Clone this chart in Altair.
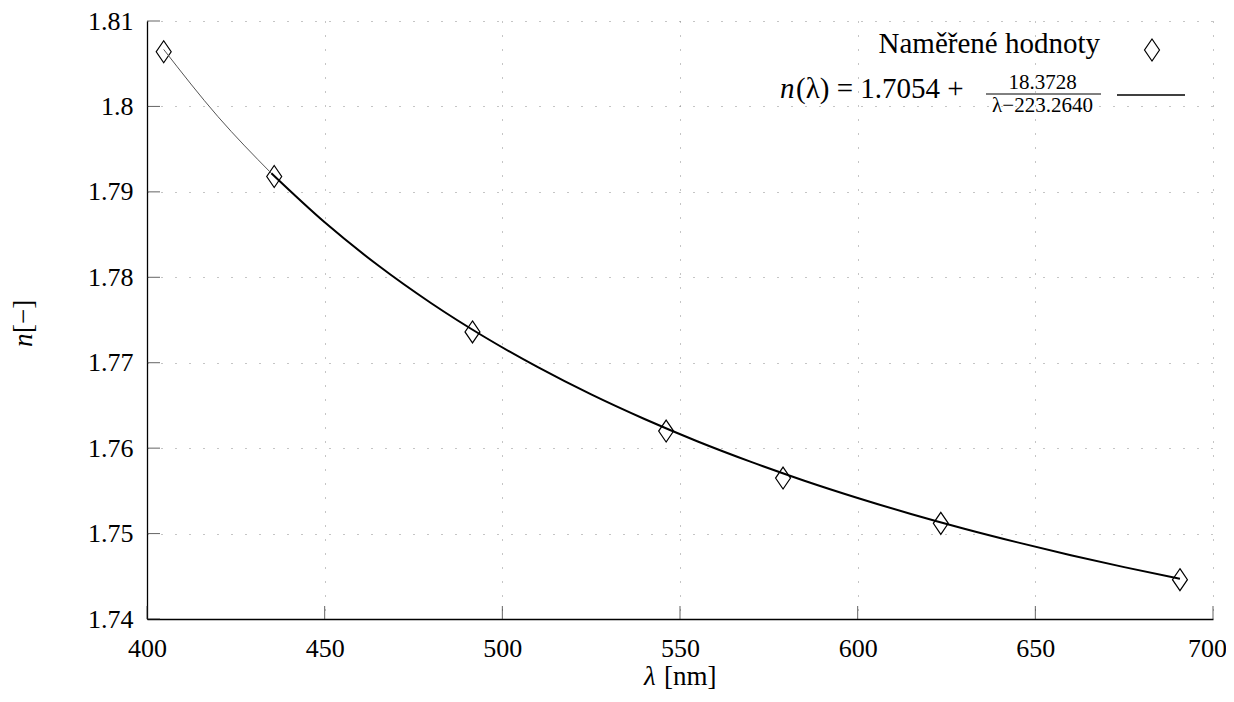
import altair as alt
import pandas as pd

# measured points
wavelength = [404.7, 435.8, 491.6, 546.1, 579.0, 623.4, 690.7]
index_n = [1.8064, 1.7918, 1.7736, 1.7620, 1.7565, 1.7512, 1.7446]

# fitted curve samples
fit_lambda = [404.7, 420, 435, 450, 465, 480, 495, 510, 525, 540, 555, 570,
              585, 600, 615, 630, 645, 660, 675, 690.7]
fit_n = [1.80667, 1.79879, 1.79217, 1.78643, 1.78140, 1.77696, 1.77301, 1.76948,
         1.76629, 1.76341, 1.76078, 1.75839, 1.75619, 1.75417, 1.75230, 1.75057,
         1.74897, 1.74747, 1.74607, 1.74471]

x_ticks = [400, 450, 500, 550, 600, 650, 700]
y_ticks = [1.74, 1.75, 1.76, 1.77, 1.78, 1.79, 1.80, 1.81]

FONT = "Liberation Serif, DejaVu Serif, serif"
W, H = 1066, 598

xscale = alt.Scale(domain=[400, 700], nice=False, zero=False)
yscale = alt.Scale(domain=[1.74, 1.81], nice=False, zero=False)

pts_df = pd.DataFrame({"lam": wavelength, "n": index_n})
fit_df = pd.DataFrame({"lam": fit_lambda, "n": fit_n})

diamond = "M0,-1L0.68,0L0,1L-0.68,0Z"

x_axis = alt.Axis(values=x_ticks, format="d", grid=True, gridDash=[1, 13],
                  gridColor="#8a8a8a", gridWidth=1, domainColor="black",
                  domainWidth=1.3, ticks=False, tickSize=0, labelFont=FONT,
                  labelFontSize=26, labelColor="black", labelPadding=16,
                  labelOffset={"condition": {"test": "datum.value == 700", "value": -6}, "value": 0},
                  labelFlush=False, labelOverlap=False, title=None)
y_axis = alt.Axis(values=y_ticks, format=".2~f", grid=True, gridDash=[1, 13],
                  gridColor="#8a8a8a", gridWidth=1, domainColor="black",
                  domainWidth=1.3, ticks=False, tickSize=0, labelFont=FONT,
                  labelFontSize=26, labelColor="black", labelPadding=14,
                  labelFlush=False, labelOverlap=False, title=None)


def X(f):
    return alt.X(f, scale=xscale, axis=x_axis)


def Y(f):
    return alt.Y(f, scale=yscale, axis=y_axis)


points = alt.Chart(pts_df).mark_point(
    shape=diamond, size=484, filled=False, stroke="black", strokeWidth=1.2, opacity=1
).encode(x=X("lam:Q"), y=Y("n:Q"))

thin = alt.Chart(fit_df).transform_filter("datum.lam <= 435").mark_line(
    color="#555555", strokeWidth=1, interpolate="monotone"
).encode(x=X("lam:Q"), y=Y("n:Q"))

thick = alt.Chart(fit_df).transform_filter("datum.lam >= 435").mark_line(
    color="black", strokeWidth=2, interpolate="monotone"
).encode(x=X("lam:Q"), y=Y("n:Q"))

xt = alt.Chart(pd.DataFrame({"lam": x_ticks})).mark_tick(
    orient="vertical", size=13, thickness=1, color="#222222"
).encode(x=X("lam:Q"), y=alt.value(H - 6.5))

yt = alt.Chart(pd.DataFrame({"n": y_ticks})).mark_tick(
    orient="horizontal", size=13, thickness=1, color="#222222"
).encode(y=Y("n:Q"), x=alt.value(6.5))


def txt(text, x, y, size, italic=False, align="left", angle=0):
    return alt.Chart(pd.DataFrame({"t": [text]})).mark_text(
        font=FONT, fontSize=size, fontStyle="italic" if italic else "normal",
        align=align, baseline="alphabetic", angle=angle, color="black"
    ).encode(x=alt.value(x), y=alt.value(y), text="t:N")


def rule(x1, x2, y, w):
    return alt.Chart(pd.DataFrame({"a": [0]})).mark_rule(
        color="black", strokeWidth=w
    ).encode(x=alt.value(x1), x2=alt.value(x2), y=alt.value(y))


texts = [
    txt("λ", 497, 664, 27, italic=True),
    txt("[nm]", 517, 664, 27),
    txt("n", -115, 326, 27, italic=True, angle=270),
    txt("[−]", -115, 312, 27, angle=270),
    txt("Naměřené hodnoty", 953, 32, 29, align="right"),
    txt("n", 633, 77, 29, italic=True),
    txt("(λ) = 1.7054 +", 649, 77, 29),
    txt("18.3728", 895.5, 68, 21, align="center"),
    txt("λ−223.2640", 895.5, 91, 21, align="center"),
]

legend_pt = alt.Chart(pd.DataFrame({"a": [0]})).mark_point(
    shape=diamond, size=484, filled=False, stroke="black", strokeWidth=1.2, opacity=1
).encode(x=alt.value(1005), y=alt.value(29))

chart = alt.layer(
    points, thin, thick, xt, yt, *texts,
    rule(839, 954, 73, 1), rule(970, 1038, 74, 1.5), legend_pt
).properties(
    width=W, height=H,
    background="white",
    autosize=alt.AutoSizeParams(type="none"),
    padding={"left": 139, "top": 13, "right": 13, "bottom": 73},
).configure_view(stroke=None)

chart.save("out.html", embed_options={"renderer": "svg", "actions": False})
